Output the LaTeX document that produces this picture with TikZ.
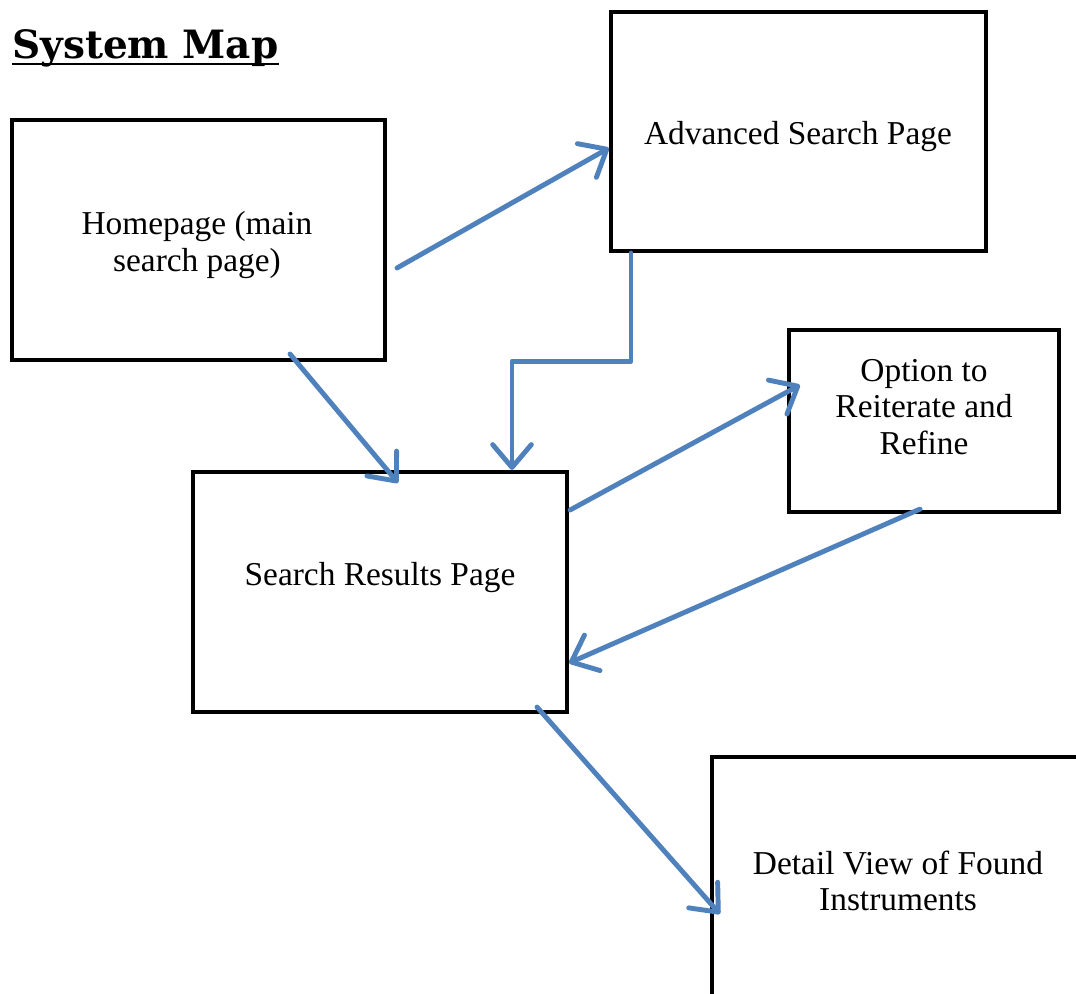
\documentclass[tikz,border=0pt]{standalone}
\usepackage{fontspec}
\setmainfont{Liberation Serif}
\newfontfamily\titlefont{DejaVu Serif}
\usetikzlibrary{calc}
\usetikzlibrary{arrows.meta}
\definecolor{FlowBlue}{HTML}{4F81BD}

\begin{document}
\begin{tikzpicture}[x=0.02cm, y=-0.02cm,
  pagebox/.style={draw=black, line width=2.4pt, inner sep=0pt},
  boxtext/.style={font=\fontsize{19}{20.7}\selectfont, align=center, inner sep=0pt},
  flow/.style={draw=FlowBlue, line width=2.8pt, line cap=round, line join=round,
    -{Straight Barb[length=13pt, width=22pt, round]}}]
  \clip (0,0) rectangle (1076,994);

  % title
  \node[anchor=base west, inner sep=0pt, font=\titlefont\bfseries\fontsize{22.2}{24}\selectfont]
    (title) at (12,58) {System Map};
  \draw[line width=1.3pt] ($(title.base west)+(0,6)$) -- ($(title.base east)+(0,6)$);

  % pages
  \node[pagebox, minimum width=7.46cm, minimum height=4.8cm] (home) at (198.5,240) {};
  \node[boxtext] (hometext) at (197,245) {Homepage (main\\search page)};

  \node[pagebox, minimum width=7.5cm, minimum height=4.78cm] (adv) at (798.5,131.5) {};
  \node[boxtext] (advtext) at (798,137) {Advanced Search Page};

  \node[pagebox, minimum width=5.4cm, minimum height=3.64cm] (opt) at (924,421) {};
  \node[boxtext] (opttext) at (924,407) {Option to\\Reiterate and\\Refine};

  \node[pagebox, minimum width=7.48cm, minimum height=4.8cm] (res) at (380,592) {};
  \node[boxtext] (restext) at (380,578) {Search Results Page};

  \node[pagebox, minimum width=7.76cm, minimum height=5.86cm] (det) at (906,903.5) {};
  \node[boxtext] (dettext) at (898,881) {Detail View of Found\\Instruments};

  % links
  \coordinate (homeout) at (397,268);
  \coordinate (homedown) at (290,354);
  \draw[flow] (homeout) -- (adv.west |- 0,148);
  \draw[flow] (homedown) -- ($(res.north -| 398,0)+(0,13)$);
  \draw[flow] (adv.south -| 631,0) -- ++(0,108) -| (res.north -| 512,0);
  \draw[flow] ($(res.east |- 0,510)+(1,0)$) -- ($(opt.west |- 0,385)+(13,0)$);
  \draw[flow] ($(opt.south -| 920,0)+(0,-5)$) -- (res.east |- 0,663);
  \draw[flow] ($(res.south -| 537,0)+(0,-7)$) -- ($(det.west |- 0,914)+(10,0)$);
\end{tikzpicture}
\end{document}
